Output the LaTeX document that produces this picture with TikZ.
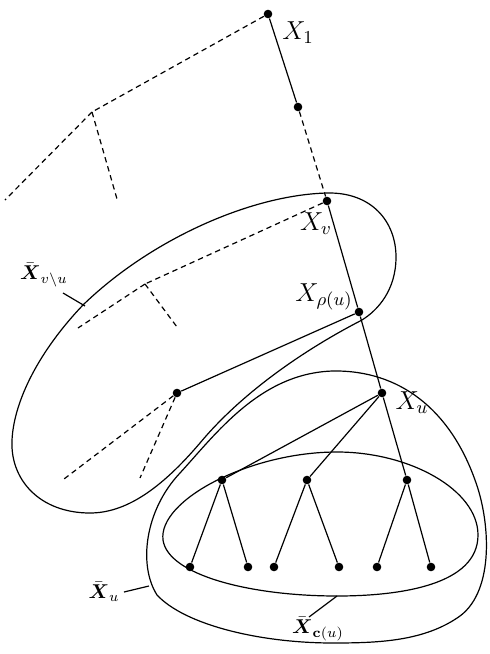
\documentclass[tikz,border=0pt]{standalone}
\usepackage{fix-cm}
\usepackage{amsmath}
\begin{document}
\begin{tikzpicture}[x=0.5pt,y=-0.5pt,
  vdot/.style={circle,fill=black,inner sep=0pt,minimum size=4.3pt},
  edge/.style={line width=0.6pt},
  dedge/.style={line width=0.6pt,dash pattern=on 2.7pt off 2pt},
  region/.style={line width=0.6pt},
  lab/.style={font=\fontsize{13}{15}\selectfont,inner sep=0pt},
  blab/.style={font=\fontsize{10}{12}\selectfont,inner sep=0pt}]
\useasboundingbox (0,0) rectangle (489,654);

% region  X_{v\u}
\draw[region] (327,193) .. controls (372,192) and (396,222) .. (396,257)
  .. controls (396,290) and (378,310) .. (362,320)
  .. controls (300,352) and (240,395) .. (200,443)
  .. controls (160,490) and (125,513) .. (90,513)
  .. controls (40,513) and (10,480) .. (12,440)
  .. controls (14,400) and (40,350) .. (83,305)
  .. controls (150,240) and (250,195) .. (327,193) -- cycle;
% region X_u
\draw[region] (333,371) .. controls (400,370) and (450,410) .. (475,480)
  .. controls (490,520) and (495,590) .. (460,616)
  .. controls (425,641) and (380,643) .. (333,643)
  .. controls (260,643) and (185,625) .. (157,595)
  .. controls (138,565) and (145,510) .. (180,473)
  .. controls (215,435) and (260,373) .. (333,371) -- cycle;
% region X_c(u)
\draw[region] (337,452) .. controls (410,452) and (478,490) .. (478,535)
  .. controls (478,585) and (400,596) .. (337,596)
  .. controls (250,596) and (168,575) .. (163,540)
  .. controls (158,500) and (250,452) .. (337,452) -- cycle;

% nodes
\node[vdot] (x1) at (268,14) {};
\node[vdot] (m1) at (298,107) {};
\node[vdot] (xv) at (327,201) {};
\node[vdot] (xr) at (359,312) {};
\node[vdot] (xu) at (382,393) {};
\node[vdot] (ld) at (177,393) {};
\node[vdot] (c1) at (222,480) {};
\node[vdot] (c2) at (307,480) {};
\node[vdot] (c3) at (407,480) {};
\node[vdot] (l1) at (190,567) {};
\node[vdot] (l2) at (248,567) {};
\node[vdot] (l3) at (274,567) {};
\node[vdot] (l4) at (339,567) {};
\node[vdot] (l5) at (377,567) {};
\node[vdot] (l6) at (431,567) {};

\coordinate (a) at (92,112);
\coordinate (a1) at (5,200);
\coordinate (a2) at (117,199);
\coordinate (b) at (145,284);
\coordinate (b1) at (78,328);
\coordinate (b2) at (177,327);
\coordinate (d1) at (64,479);
\coordinate (d2) at (140,478);

% solid edges
\draw[edge] (x1) -- (m1);
\draw[edge] (xv) -- (xr);
\draw[edge] (xr) -- (xu);
\draw[edge] (xr) -- (ld);
\draw[edge] (xu) -- (c1);
\draw[edge] (xu) -- (c2);
\draw[edge] (xu) -- (c3);
\draw[edge] (c1) -- (l1);
\draw[edge] (c1) -- (l2);
\draw[edge] (c2) -- (l3);
\draw[edge] (c2) -- (l4);
\draw[edge] (c3) -- (l5);
\draw[edge] (c3) -- (l6);

% dashed edges
\draw[dedge] (m1) -- (xv);
\draw[dedge] (x1) -- (a);
\draw[dedge] (a) -- (a1);
\draw[dedge] (a) -- (a2);
\draw[dedge] (xv) -- (b);
\draw[dedge] (b) -- (b1);
\draw[dedge] (b) -- (b2);
\draw[dedge] (ld) -- (d1);
\draw[dedge] (ld) -- (d2);

% labels
\node[lab] (X1l) at (298,33) {$X_1$};
\node[lab] (Xvl) at (316,224) {$X_v$};
\node[lab] (Xrl) at (324,297) {$X_{\rho(u)}$};
\node[lab] (Xul) at (412,403) {$X_u$};
\node[blab] (Xvu) at (44,275) {$\bar{\boldsymbol X}_{v\setminus u}$};
\node[blab] (Xbu) at (104,592) {$\bar{\boldsymbol X}_u$};
\node[blab] (Xcu) at (318,629) {$\bar{\boldsymbol X}_{\mathbf c(u)}$};

% label leaders
\coordinate (p1) at (63,293);
\coordinate (q1) at (85,306);
\coordinate (p2) at (124,592);
\coordinate (q2) at (149,586);
\coordinate (p3) at (309,617);
\coordinate (q3) at (337,596);
\draw[edge] (p1) -- (q1);
\draw[edge] (p2) -- (q2);
\draw[edge] (p3) -- (q3);
\end{tikzpicture}
\end{document}
